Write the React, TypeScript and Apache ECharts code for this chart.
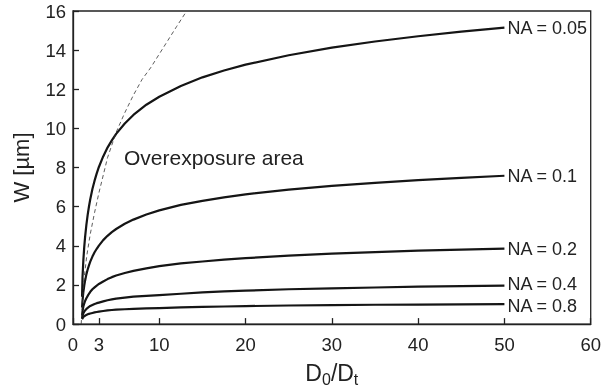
import React, { useEffect, useRef } from "react";
import * as echarts from "echarts";

const xs = [1.05, 1.1, 1.2, 1.3, 1.4, 1.55, 1.7, 1.85, 2, 2.25, 2.5, 2.75, 3, 3.5, 4, 4.5, 5, 6, 7, 8.5, 10, 12.5, 15, 17.5, 20, 25, 30, 35, 40, 45, 50];
const na005 = [1.4, 2.37, 3.27, 3.92, 4.44, 5.07, 5.58, 6.01, 6.38, 6.9, 7.33, 7.7, 8.03, 8.57, 9.02, 9.39, 9.72, 10.25, 10.69, 11.21, 11.62, 12.17, 12.61, 12.96, 13.26, 13.74, 14.13, 14.44, 14.71, 14.95, 15.15];
const na01 = [0.85, 1.18, 1.64, 1.96, 2.22, 2.54, 2.79, 3.0, 3.19, 3.45, 3.67, 3.85, 4.01, 4.29, 4.51, 4.7, 4.86, 5.13, 5.34, 5.6, 5.81, 6.09, 6.3, 6.48, 6.63, 6.87, 7.06, 7.22, 7.36, 7.47, 7.58];
const na02 = [0.45, 0.65, 0.9, 1.05, 1.18, 1.32, 1.44, 1.55, 1.65, 1.78, 1.88, 1.97, 2.05, 2.18, 2.3, 2.4, 2.48, 2.61, 2.72, 2.85, 2.96, 3.1, 3.2, 3.29, 3.37, 3.5, 3.6, 3.68, 3.75, 3.81, 3.86];
const na04 = [0.3, 0.42, 0.55, 0.63, 0.7, 0.77, 0.83, 0.88, 0.93, 0.98, 1.03, 1.07, 1.1, 1.16, 1.22, 1.26, 1.3, 1.35, 1.4, 1.44, 1.48, 1.55, 1.62, 1.67, 1.71, 1.78, 1.83, 1.87, 1.91, 1.94, 1.97];
const na08 = [0.25, 0.3, 0.36, 0.4, 0.43, 0.47, 0.5, 0.52, 0.54, 0.57, 0.6, 0.62, 0.64, 0.67, 0.7, 0.72, 0.74, 0.76, 0.78, 0.8, 0.82, 0.85, 0.88, 0.9, 0.92, 0.95, 0.97, 0.99, 1.0, 1.01, 1.02];

const dashX = [0.95, 1.1, 1.3, 1.6, 2, 2.5, 3, 4, 5, 6, 7, 8, 9, 10, 11, 12, 13.1];
const dashY = [0, 1.2, 2.4, 3.5, 4.6, 5.7, 6.7, 8.5, 9.8, 10.8, 11.7, 12.5, 13.1, 13.8, 14.5, 15.2, 15.95];

const seriesNames = ["NA = 0.05", "NA = 0.1", "NA = 0.2", "NA = 0.4", "NA = 0.8"];
const seriesValues = [na005, na01, na02, na04, na08];
const labelShift = [0, 0, 0, -1.5, 2];

const xTickValues = [0, 3, 10, 20, 30, 40, 50, 60];

const FONT = "Liberation Sans, Arial, sans-serif";
const TXT = "#222";

export default function App() {
  const ref = useRef<HTMLDivElement>(null);
  useEffect(() => {
    if (!ref.current) return;
    const chart = echarts.init(ref.current, undefined, { renderer: "svg" });
    const lineSeries = seriesNames.map((name, i) => ({
      type: "line",
      name,
      data: xs.map((x, j) => [x, seriesValues[i][j]]),
      showSymbol: false,
      smooth: false,
      lineStyle: { color: "#151515", width: 2.2, join: "round" },
      endLabel: {
        show: true,
        formatter: name,
        fontSize: 18,
        lineHeight: 17,
        fontFamily: FONT,
        color: TXT,
        distance: 3,
        offset: [0, labelShift[i]],
      },
    }));
    chart.setOption({
      animation: false,
      textStyle: { fontFamily: FONT },
      grid: {
        left: 73,
        right: 11,
        top: 11,
        bottom: 61,
        show: true,
        borderColor: "#222",
        borderWidth: 1.3,
      },
      xAxis: {
        type: "value",
        min: 0,
        max: 60,
        name: "D{sub|0}/D{sub|t}",
        nameLocation: "middle",
        nameGap: 30,
        nameTextStyle: {
          fontSize: 23,
          color: TXT,
          fontFamily: FONT,
          lineHeight: 28,
          rich: {
            sub: { fontSize: 16, verticalAlign: "bottom", lineHeight: 12, color: TXT, fontFamily: FONT },
          },
        },
        axisLine: { lineStyle: { color: "#222", width: 1.3 } },
        axisTick: { inside: true, length: 6, customValues: xTickValues, lineStyle: { color: "#222", width: 1.3 } },
        axisLabel: { customValues: xTickValues, fontSize: 18.5, color: TXT, margin: 11, fontFamily: FONT },
        splitLine: { show: false },
      },
      yAxis: {
        type: "value",
        min: 0,
        max: 16,
        interval: 2,
        name: "W [µm]",
        nameLocation: "middle",
        nameGap: 41,
        nameTextStyle: { fontSize: 22, color: TXT, fontFamily: FONT },
        axisLine: { show: true, lineStyle: { color: "#222", width: 1.3 } },
        axisTick: { show: true, inside: true, length: 6, lineStyle: { color: "#222", width: 1.3 } },
        axisLabel: { fontSize: 18.5, color: TXT, margin: 7, fontFamily: FONT },
        splitLine: { show: false },
      },
      graphic: [
        {
          type: "text",
          left: 124,
          top: 147,
          style: { text: "Overexposure area", fontSize: 21, fill: TXT, fontFamily: FONT },
        },
      ],
      series: [
        ...lineSeries,
        {
          type: "line",
          name: "dash",
          data: dashX.map((x, j) => [x, dashY[j]]),
          showSymbol: false,
          smooth: false,
          lineStyle: { color: "#333", width: 0.8, type: [4, 3] },
        },
      ],
    });
    return () => chart.dispose();
  }, []);
  return <div ref={ref} style={{ position: "fixed", left: 0, top: 0, width: 604, height: 392 }} />;
}
